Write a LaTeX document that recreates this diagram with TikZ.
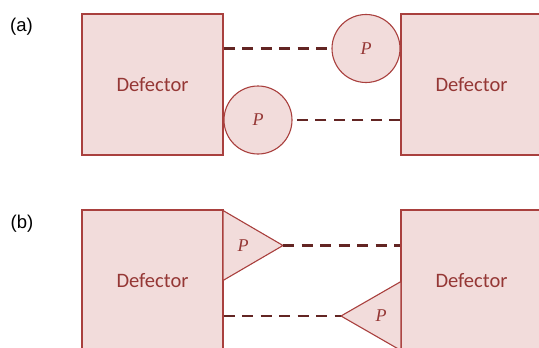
\documentclass[tikz,border=0pt]{standalone}
\usepackage{fontspec}
\setmainfont{Carlito}
\newfontfamily\panelfont{Liberation Sans}
\newfontfamily\probefont{Liberation Serif}
\usetikzlibrary{positioning}
\definecolor{defFill}{HTML}{F2DCDB}
\definecolor{defLine}{HTML}{A9403E}
\definecolor{defText}{HTML}{953735}
\definecolor{linkDark}{HTML}{632523}
\begin{document}
\begin{tikzpicture}[x=1pt,y=-1pt,
  defector/.style={draw=defLine, fill=defFill, line width=1.1pt, minimum size=141pt,
    inner sep=0pt, text=defText, font=\fontsize{20.5}{24}\selectfont},
  probe/.style={circle, draw=defLine, fill=defFill, line width=1.1pt, minimum size=68pt,
    inner sep=0pt, text=defText, font=\probefont\itshape\fontsize{18}{20}\selectfont},
  ptext/.style={inner sep=0pt, text=defText, font=\probefont\itshape\fontsize{18}{20}\selectfont},
  link/.style={draw=linkDark, line width=2.6pt, dash pattern=on 11pt off 7.5pt},
  panel/.style={font=\panelfont\fontsize{18.5}{20}\selectfont, inner sep=0pt}]
\useasboundingbox (0,0) rectangle (539,348);

% (a) two defectors, round probes
\node[panel] (lblA) at (21.5,27) {(a)};
\node[defector] (defAL) at (152.5,84.5) {Defector};
\node[defector] (defAR) at (471.5,84.5) {Defector};
\node[probe] (probeAR) at (366,48.5) {P};
\node[probe] (probeAL) at (258,120) {P};
\draw[link] (defAL.east |- probeAR) -- (probeAR.west);
\draw[link] (defAR.west |- probeAL) -- (probeAL.east);

% (b) two defectors, pointed probes
\node[panel] (lblB) at (22,224) {(b)};
\node[defector] (defBL) at (152.5,280.5) {Defector};
\node[defector] (defBR) at (471.5,280.5) {Defector};
\coordinate (tipBL) at (283,245.5);
\coordinate (tipBR) at (341,316);
\filldraw[draw=defLine, fill=defFill, line width=1.1pt, line join=miter]
  (223,210.5) -- (tipBL) -- (223,280.5) -- cycle;
\filldraw[draw=defLine, fill=defFill, line width=1.1pt, line join=miter]
  (401,281.5) -- (tipBR) -- (401,350.5) -- cycle;
\node[ptext] (probeBL) at (243,245.5) {P};
\node[ptext] (probeBR) at (381,316) {P};
\draw[link] (tipBL) -- (defBR.west |- tipBL);
\draw[link] (defBL.east |- tipBR) -- (tipBR);
\end{tikzpicture}
\end{document}
